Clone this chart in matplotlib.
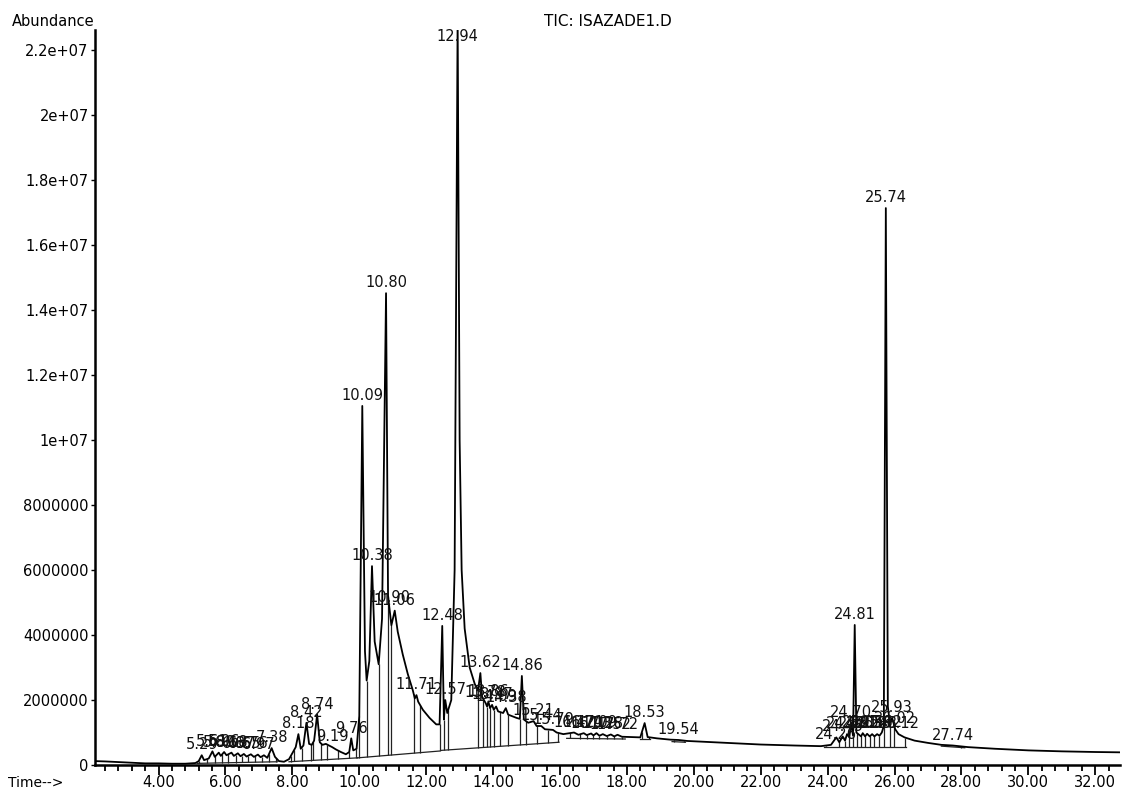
#!/usr/bin/env python3

import matplotlib
matplotlib.use('Agg')
import matplotlib.pyplot as plt
import numpy as np

# TIC trace: retention time (min), abundance (millions)
trace_t = [2.10, 2.40, 2.80, 3.20, 3.60, 4.00, 4.40, 4.80, 5.10, 5.20,
           5.29, 5.36, 5.50, 5.61, 5.68, 5.80, 5.86, 5.96, 6.03, 6.18,
           6.25, 6.37, 6.45, 6.55, 6.63, 6.76, 6.85, 6.97, 7.05, 7.15,
           7.25, 7.38, 7.48, 7.60, 7.75, 7.90, 8.02, 8.10, 8.18, 8.25,
           8.33, 8.42, 8.50, 8.58, 8.65, 8.74, 8.82, 8.90, 9.00, 9.19,
           9.30, 9.45, 9.60, 9.70, 9.76, 9.82, 9.92, 10.00, 10.09, 10.17,
           10.22, 10.30, 10.38, 10.46, 10.58, 10.68, 10.80, 10.86, 10.90, 10.96,
           11.06, 11.15, 11.30, 11.45, 11.60, 11.66, 11.71, 11.76, 11.90, 12.10,
           12.30, 12.40, 12.48, 12.53, 12.57, 12.63, 12.75, 12.85, 12.94, 13.00,
           13.06, 13.15, 13.30, 13.45, 13.55, 13.62, 13.67, 13.78, 13.82, 13.86,
           13.91, 13.97, 14.02, 14.09, 14.15, 14.30, 14.38, 14.45, 14.70, 14.80,
           14.86, 14.92, 15.05, 15.21, 15.30, 15.44, 15.55, 15.79, 15.90, 16.10,
           16.42, 16.55, 16.71, 16.80, 16.93, 17.00, 17.09, 17.18, 17.28, 17.40,
           17.52, 17.62, 17.72, 17.85, 18.10, 18.40, 18.53, 18.62, 18.90, 19.30,
           19.54, 19.80, 20.20, 21.00, 22.00, 23.00, 23.80, 24.10, 24.26, 24.35,
           24.45, 24.52, 24.58, 24.65, 24.70, 24.76, 24.81, 24.86, 24.92, 25.00,
           25.05, 25.12, 25.18, 25.26, 25.33, 25.40, 25.48, 25.55, 25.62, 25.68,
           25.74, 25.80, 25.86, 25.93, 26.02, 26.12, 26.30, 26.60, 27.00, 27.40,
           27.74, 28.20, 29.00, 30.00, 31.00, 32.00, 32.74]
trace_y = [0.12, 0.11, 0.09, 0.07, 0.05, 0.05, 0.04, 0.04, 0.06, 0.12,
           0.30, 0.15, 0.20, 0.42, 0.25, 0.38, 0.28, 0.40, 0.30, 0.38,
           0.28, 0.36, 0.27, 0.34, 0.26, 0.33, 0.25, 0.32, 0.24, 0.30,
           0.22, 0.52, 0.25, 0.12, 0.10, 0.18, 0.40, 0.55, 0.95, 0.50,
           0.60, 1.30, 0.65, 0.62, 0.75, 1.55, 0.70, 0.62, 0.65, 0.55,
           0.48, 0.40, 0.33, 0.40, 0.82, 0.45, 0.50, 1.50, 11.05, 3.50,
           2.60, 3.20, 6.12, 3.80, 3.10, 4.50, 14.52, 5.20, 4.83, 4.30,
           4.75, 4.10, 3.40, 2.80, 2.30, 2.05, 2.15, 1.95, 1.70, 1.45,
           1.25, 1.25, 4.28, 1.40, 2.00, 1.60, 2.00, 6.00, 23.00, 10.00,
           6.00, 4.20, 3.00, 2.50, 2.30, 2.83, 2.10, 1.90, 1.80, 1.95,
           1.75, 1.85, 1.70, 1.80, 1.65, 1.60, 1.75, 1.55, 1.45, 1.42,
           2.74, 1.40, 1.30, 1.35, 1.20, 1.20, 1.10, 1.08, 1.00, 0.95,
           1.00, 0.93, 0.98, 0.92, 0.97, 0.91, 0.98, 0.90, 0.95, 0.89,
           0.94, 0.88, 0.93, 0.87, 0.86, 0.85, 1.29, 0.86, 0.82, 0.78,
           0.77, 0.74, 0.72, 0.68, 0.63, 0.60, 0.58, 0.62, 0.85, 0.70,
           0.88, 0.75, 0.95, 0.85, 1.30, 0.90, 4.31, 1.00, 0.95, 0.88,
           0.98, 0.88, 0.96, 0.88, 0.95, 0.88, 0.95, 0.90, 1.00, 1.20,
           17.14, 1.80, 1.30, 1.45, 1.10, 0.95, 0.85, 0.75, 0.68, 0.62,
           0.60, 0.55, 0.50, 0.45, 0.42, 0.40, 0.39]

# labelled peaks: retention time and label height (millions)
peak_rt = [5.29, 5.61, 5.80, 5.96, 6.18, 6.37, 6.55, 6.76, 6.97, 7.38,
           8.18, 8.42, 8.74, 9.19, 9.76, 10.09, 10.38, 10.80, 10.90, 11.06,
           11.71, 12.48, 12.57, 12.94, 13.62, 13.78, 13.86, 13.97, 14.09, 14.38,
           14.86, 15.21, 15.44, 15.79, 16.42, 16.71, 16.93, 17.09, 17.28, 17.52,
           17.72, 18.53, 19.54, 24.26, 24.45, 24.58, 24.70, 24.81, 24.92, 25.05,
           25.18, 25.33, 25.48, 25.62, 25.74, 25.93, 26.02, 26.12, 27.74]
peak_y = [0.30, 0.42, 0.38, 0.40, 0.38, 0.36, 0.34, 0.33, 0.32, 0.52,
          0.95, 1.30, 1.55, 0.55, 0.82, 11.05, 6.12, 14.52, 4.83, 4.75,
          2.15, 4.28, 2.00, 22.10, 2.83, 1.90, 1.95, 1.85, 1.80, 1.75,
          2.74, 1.35, 1.20, 1.08, 1.00, 0.98, 0.97, 0.98, 0.95, 0.94,
          0.93, 1.29, 0.77, 0.62, 0.88, 0.95, 1.30, 4.31, 0.95, 0.98,
          0.96, 0.95, 0.95, 1.00, 17.14, 1.45, 1.10, 0.95, 0.60]

# integration baselines (start t, start y, end t, end y) and drop-line times
base_t0 = [5.15, 7.90, 9.95, 12.45, 16.20, 18.40, 19.35, 23.90, 27.40]
base_y0 = [0.05, 0.10, 0.22, 0.45, 0.82, 0.80, 0.72, 0.55, 0.58]
base_t1 = [7.55, 9.95, 12.40, 15.97, 17.95, 18.70, 19.75, 26.35, 28.10]
base_y1 = [0.10, 0.22, 0.43, 0.70, 0.80, 0.80, 0.70, 0.55, 0.53]
drop_t = [5.20, 5.45, 5.70, 5.90, 6.08, 6.30, 6.48, 6.66, 6.88, 7.08, 7.30, 7.50,
          7.95, 8.05, 8.28, 8.55, 8.62, 8.85, 9.05, 9.35, 9.70, 9.90,
          10.00, 10.22, 10.58, 10.86, 10.96, 11.63, 11.82, 12.40, 12.53, 12.66,
          13.55, 13.70, 13.82, 13.91, 14.02, 14.22, 14.45, 14.80, 14.98, 15.30,
          15.65, 15.95, 16.30, 16.60, 16.82, 17.00, 17.18, 17.40, 17.62, 17.85,
          18.45, 18.65, 19.40, 19.70, 23.95, 24.35, 24.52, 24.65, 24.76, 24.88,
          25.00, 25.12, 25.26, 25.40, 25.55, 25.68, 25.86, 25.98, 26.32, 27.50,
          28.00]

ytick_vals = [0, 2e6, 4e6, 6e6, 8e6, 1e7, 1.2e7, 1.4e7, 1.6e7, 1.8e7, 2e7, 2.2e7]
ytick_labels = ['0', '2000000', '4000000', '6000000', '8000000', '1e+07',
                '1.2e+07', '1.4e+07', '1.6e+07', '1.8e+07', '2e+07', '2.2e+07']
xtick_vals = [4, 6, 8, 10, 12, 14, 16, 18, 20, 22, 24, 26, 28, 30, 32]


def baseline_at(t):
    # y of the integration baseline under a drop line
    for t0, y0, t1, y1 in zip(base_t0, base_y0, base_t1, base_y1):
        if t0 - 0.06 <= t <= t1 + 0.06:
            return y0 + (y1 - y0) * (t - t0) / (t1 - t0)
    return 0.0


def main():
    W, H = 1123, 791
    fig = plt.figure(figsize=(W / 100, H / 100), dpi=100)
    plt.rcParams['font.family'] = ['DejaVu Sans']
    ax = fig.add_axes([95 / W, 1 - 765 / H, (1120 - 95) / W, (765 - 30) / H])

    tt = np.array(trace_t)
    ty = np.array(trace_y) * 1e6

    # integration marks
    for t0, y0, t1, y1 in zip(base_t0, base_y0, base_t1, base_y1):
        ax.plot([t0, t1], [y0 * 1e6, y1 * 1e6], color='#222222', lw=0.9)
    tops = np.interp(drop_t, tt, ty)
    bots = [baseline_at(t) * 1e6 for t in drop_t]
    ax.vlines(drop_t, bots, tops, color='#222222', lw=0.9)

    ax.plot(tt, ty, color='black', lw=1.3)

    for rt, y in zip(peak_rt, peak_y):
        ax.annotate('%.2f' % rt, (rt, y * 1e6), xytext=(0, 2),
                    textcoords='offset points', ha='center', va='bottom',
                    fontsize=10.5, color='#111111')

    ax.set_xlim(2.10, 32.74)
    ax.set_ylim(0, 2.262e7)
    ax.set_yticks(ytick_vals)
    ax.set_yticklabels(ytick_labels)
    ax.set_xticks(xtick_vals)
    ax.set_xticklabels(['%.2f' % v for v in xtick_vals])
    ax.set_xticks(np.arange(2.4, 32.8, 0.4), minor=True)
    ax.tick_params(axis='x', which='major', length=7, width=1.3, labelsize=10.5, pad=0.5)
    ax.tick_params(axis='x', which='minor', length=4, width=1.3)
    ax.tick_params(axis='y', which='major', length=3, width=1.0, labelsize=10.5, pad=1.5)
    for s in ['top', 'right']:
        ax.spines[s].set_visible(False)
    for s in ['left', 'bottom']:
        ax.spines[s].set_linewidth(1.8)

    fig.text(95 / W, 1 - 22 / H, 'Abundance', ha='right', va='center', fontsize=10.5)
    fig.text(8 / W, 1 - 783 / H, 'Time-->', ha='left', va='center', fontsize=10)
    fig.text(608 / W, 1 - 22 / H, 'TIC: ISAZADE1.D', ha='center', va='center', fontsize=11)

    fig.savefig('out.png', dpi=100)


if __name__ == "__main__":
    main()
